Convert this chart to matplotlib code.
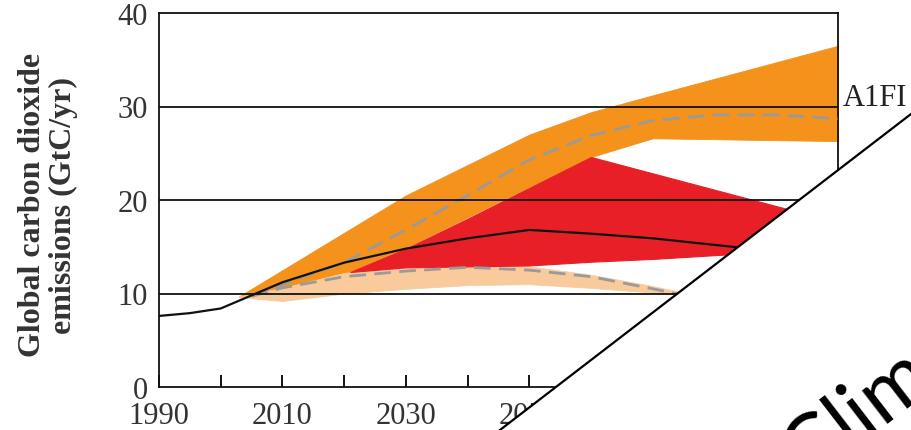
import matplotlib
matplotlib.use("Agg")
import matplotlib.pyplot as plt
from matplotlib.patches import Polygon
from matplotlib.lines import Line2D

# observed / median path (black line)
mid_years = [1990, 1995, 2000, 2005, 2010, 2020, 2030, 2040, 2050, 2060, 2070, 2080, 2090, 2100]
mid_vals = [7.6, 7.9, 8.4, 9.8, 11.2, 13.3, 14.8, 15.9, 16.8, 16.4, 15.9, 15.2, 14.5, 13.8]

# A1FI range (orange) and its median (grey dashes)
a1_years = [2003, 2022, 2030, 2050, 2060, 2070, 2100]
a1_high = [9.7, 17.3, 20.5, 27.0, 29.4, 31.2, 36.5]
a1_low = [9.6, 12.3, 14.9, 21.4, 24.6, 26.6, 26.3]
a1_med_years = [2005, 2010, 2020, 2030, 2040, 2050, 2060, 2070, 2080, 2090, 2100]
a1_med = [9.8, 11.0, 13.3, 16.8, 20.5, 24.3, 26.9, 28.5, 29.1, 29.1, 28.7]

# middle range (red)
b2_years = [2021, 2030, 2040, 2050, 2060, 2070, 2080, 2090, 2100]
b2_high = [12.3, 14.8, 18.0, 21.3, 24.6, 22.85, 21.1, 19.35, 17.6]
b2_low = [12.3, 12.8, 12.9, 13.0, 13.4, 13.7, 14.1, 14.5, 14.8]

# low range (peach) and its median (grey dashes)
b1_years = [2003, 2010, 2020, 2030, 2040, 2050, 2060, 2070, 2077]
b1_high = [9.7, 10.6, 12.2, 13.0, 13.2, 12.9, 12.0, 10.8, 9.8]
b1_low = [9.6, 9.2, 10.0, 10.5, 10.9, 11.0, 10.6, 10.1, 9.8]
b1_med_years = [2005, 2010, 2020, 2030, 2040, 2050, 2060, 2070, 2076]
b1_med = [9.7, 10.6, 11.8, 12.4, 12.8, 12.5, 11.8, 10.5, 9.7]

x_ticks = list(range(1990, 2101, 10))
x_labels = [str(y) if (y - 1990) % 20 == 0 else "" for y in x_ticks]
y_ticks = [0, 10, 20, 30, 40]

W, H = 911, 431
serif = ["Liberation Serif", "DejaVu Serif"]

fig = plt.figure(figsize=(W / 100, H / 100), dpi=100)
ax = fig.add_axes([159 / W, 43 / H, (838 - 159) / W, (388 - 14) / H])

orange, peach, red = "#F4921C", "#F9CB9C", "#E81F27"
ax.fill_between(a1_years, a1_low, a1_high, facecolor=orange, edgecolor=orange, lw=0.6, zorder=1)
ax.fill_between(b1_years, b1_low, b1_high, facecolor=peach, edgecolor=peach, lw=0.6, zorder=1.5)
ax.fill_between(b2_years, b2_low, b2_high, facecolor=red, edgecolor=red, lw=0.8, zorder=2)

ax.plot(a1_med_years, a1_med, color="#9a9a9a", lw=2, dashes=(6, 3), zorder=3)
ax.plot(b1_med_years, b1_med, color="#9a9a9a", lw=2, dashes=(6, 3), zorder=3)
ax.plot(mid_years, mid_vals, color="#111111", lw=1.6, zorder=4)

for v in [10, 20, 30]:
    ax.axhline(v, color="#111111", lw=1.3, zorder=5)

ax.set_xlim(1990, 2100)
ax.set_ylim(0, 40)
ax.set_xticks(x_ticks)
ax.set_xticklabels(x_labels, fontfamily=serif, fontsize=22, color="#333333")
ax.set_yticks(y_ticks)
ax.set_yticklabels([str(v) for v in y_ticks], fontfamily=serif, fontsize=22, color="#333333")
ax.tick_params(axis="x", direction="in", length=9, width=1.3, pad=10)
ax.tick_params(axis="y", length=0, pad=8)
for s in ax.spines.values():
    s.set_linewidth(1.3)
    s.set_color("#111111")
# nudge the y labels up a touch so the top one runs off the page
for lbl in ax.get_yticklabels():
    lbl.set_va("center_baseline")

fig.text(48 / W, 1 - 205 / H, "Global carbon dioxide\nemissions (GtC/yr)",
         rotation=90, ha="center", va="center", multialignment="center",
         fontfamily=serif, fontweight="bold", fontsize=23, color="#333333",
         linespacing=1.1)

fig.text(843 / W, 325 / H, "A1FI", ha="left", va="baseline",
         fontfamily=serif, fontsize=22, color="#222222")

# folded page corner across the lower right
corner = [(500 / W, 0), (1.0, 316 / H), (1.05, 316 / H), (1.05, -0.05), (500 / W, -0.05)]
fig.add_artist(Polygon(corner, closed=True, transform=fig.transFigure,
                       facecolor="white", edgecolor="none", zorder=10))
fig.add_artist(Line2D([500 / W, 1.0], [0, 316 / H], transform=fig.transFigure,
                      color="black", lw=1.6, zorder=11))
fig.text(807 / W, -52 / H, "Clim", rotation=37.6, rotation_mode="anchor",
         ha="left", va="baseline", fontfamily=["Lato", "DejaVu Sans"],
         fontsize=60, color="black", zorder=12)

fig.savefig("out.png", dpi=100)
